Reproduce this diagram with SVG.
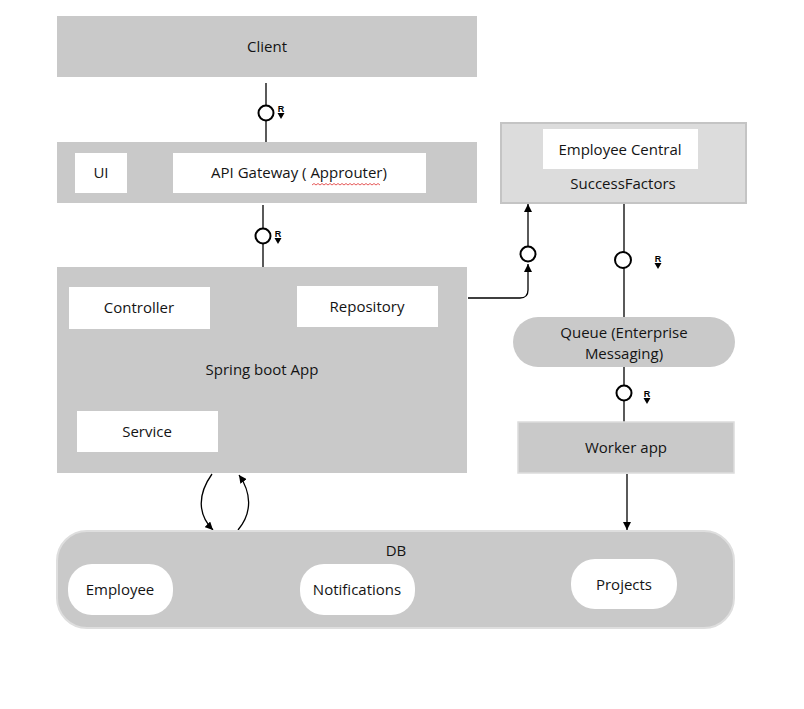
<svg xmlns="http://www.w3.org/2000/svg" width="804" height="709" viewBox="0 0 804 709">
  <defs>
    <style>
      .box { fill: #c9c9c9; }
      .inner { fill: #ffffff; }
      .lbl { font-family: "Open Sans", "Liberation Sans", sans-serif; font-size: 15px; fill: #141414; text-anchor: middle; }
      .wire { fill: none; stroke: #000; stroke-width: 1.3; }
      .port { fill: #fff; stroke: #000; stroke-width: 2; }
      .rtag { font-family: "Liberation Sans", Arial, sans-serif; font-size: 9px; font-weight: bold; fill: #000; text-anchor: middle; }
    </style>
    <marker id="arrow" viewBox="0 0 10 10" refX="10" refY="5" markerWidth="8" markerHeight="8" markerUnits="userSpaceOnUse" orient="auto">
      <path d="M0,0 L10,5 L0,10 Z" fill="#000"/>
    </marker>
    <!-- request-direction tag: small R with a down-pointing head -->
    <g id="rdir">
      <text class="rtag" x="0" y="0">R</text>
      <path d="M-3.5,1 H3.5 L0,7 Z" fill="#000"/>
    </g>
  </defs>

  <rect width="804" height="709" fill="#ffffff"/>

  <!-- connectors -->
  <g id="connectors">
    <!-- Client to gateway -->
    <line class="wire" x1="266" y1="83" x2="266" y2="142"/>
    <circle class="port" cx="266" cy="113" r="7.5"/>
    <use href="#rdir" x="281" y="112"/>

    <!-- gateway to Spring boot -->
    <line class="wire" x1="263" y1="205" x2="263" y2="267"/>
    <circle class="port" cx="263" cy="236" r="7.5"/>
    <use href="#rdir" x="278" y="237"/>

    <!-- Repository to SuccessFactors -->
    <path class="wire" d="M468,298 H520 Q528,298 528,290 V264" marker-end="url(#arrow)"/>
    <circle class="port" cx="528" cy="254" r="7.5"/>
    <line class="wire" x1="528" y1="246" x2="528" y2="204" marker-end="url(#arrow)"/>

    <!-- SuccessFactors to Queue -->
    <line class="wire" x1="624" y1="204" x2="624" y2="317"/>
    <circle class="port" cx="623" cy="260" r="8"/>
    <use href="#rdir" x="658" y="262"/>

    <!-- Queue to Worker app -->
    <line class="wire" x1="624" y1="367" x2="624" y2="422"/>
    <circle class="port" cx="624" cy="393" r="7.5"/>
    <use href="#rdir" x="647" y="397"/>

    <!-- Worker app to DB -->
    <line class="wire" x1="627" y1="474" x2="627" y2="530" marker-end="url(#arrow)"/>

    <!-- Spring boot <-> DB -->
    <path class="wire" d="M212,474 C197,495 198,515 213,530" marker-end="url(#arrow)"/>
    <path class="wire" d="M238,530 C253,512 251,492 239,475" marker-end="url(#arrow)"/>
  </g>

  <!-- Client -->
  <g id="client">
    <rect class="box" x="57" y="16" width="420" height="61"/>
    <text class="lbl" x="267" y="52">Client</text>
  </g>

  <!-- UI / API Gateway layer -->
  <g id="gateway-layer">
    <rect class="box" x="57" y="142" width="420" height="61"/>
    <g id="ui">
      <rect class="inner" x="75" y="153" width="52" height="40"/>
      <text class="lbl" x="101" y="178">UI</text>
    </g>
    <g id="api-gateway">
      <rect class="inner" x="173" y="153" width="253" height="40"/>
      <text class="lbl" x="299" y="178">API Gateway ( Approuter)</text>
      <path d="M312,185 l2,-1.5 l2,1.5 l2,-1.5 l2,1.5 l2,-1.5 l2,1.5 l2,-1.5 l2,1.5 l2,-1.5 l2,1.5 l2,-1.5 l2,1.5 l2,-1.5 l2,1.5 l2,-1.5 l2,1.5 l2,-1.5 l2,1.5 l2,-1.5 l2,1.5 l2,-1.5 l2,1.5 l2,-1.5 l2,1.5 l2,-1.5 l2,1.5 l2,-1.5 l2,1.5 l2,-1.5 l2,1.5 l2,-1.5 l2,1.5 l2,-1.5 l2,1.5" fill="none" stroke="#e03030" stroke-width="0.8"/>
    </g>
  </g>

  <!-- SuccessFactors -->
  <g id="successfactors">
    <rect x="501" y="123" width="245" height="80" fill="#dcdcdc" stroke="#c4c4c4" stroke-width="2"/>
    <g id="employee-central">
      <rect class="inner" x="543" y="129" width="155" height="40"/>
      <text class="lbl" x="620" y="155">Employee Central</text>
    </g>
    <text class="lbl" x="623" y="189">SuccessFactors</text>
  </g>

  <!-- Spring boot App -->
  <g id="spring-boot-app">
    <rect class="box" x="57" y="267" width="410" height="206"/>
    <g id="controller">
      <rect class="inner" x="69" y="287" width="141" height="42"/>
      <text class="lbl" x="139" y="313">Controller</text>
    </g>
    <g id="repository">
      <rect class="inner" x="297" y="286" width="141" height="41"/>
      <text class="lbl" x="367" y="312">Repository</text>
    </g>
    <text class="lbl" x="262" y="375">Spring boot App</text>
    <g id="service">
      <rect class="inner" x="77" y="411" width="141" height="41"/>
      <text class="lbl" x="147" y="437">Service</text>
    </g>
  </g>

  <!-- Queue -->
  <g id="queue">
    <rect class="box" x="513" y="317" width="222" height="50" rx="25" ry="25"/>
    <text class="lbl" x="624" y="338">Queue (Enterprise</text>
    <text class="lbl" x="624" y="359">Messaging)</text>
  </g>

  <!-- Worker app -->
  <g id="worker-app">
    <rect class="box" x="518" y="422" width="216" height="51" stroke="#dcdcdc" stroke-width="1.5"/>
    <text class="lbl" x="626" y="453">Worker app</text>
  </g>

  <!-- DB -->
  <g id="db">
    <rect class="box" x="57" y="531" width="677" height="97" rx="30" ry="30" stroke="#dedede" stroke-width="2"/>
    <text class="lbl" x="396" y="556">DB</text>
    <g id="employee">
      <rect class="inner" x="68" y="564" width="105" height="51" rx="24" ry="24"/>
      <text class="lbl" x="120" y="595">Employee</text>
    </g>
    <g id="notifications">
      <rect class="inner" x="300" y="564" width="115" height="51" rx="24" ry="24"/>
      <text class="lbl" x="357" y="595">Notifications</text>
    </g>
    <g id="projects">
      <rect class="inner" x="571" y="559" width="106" height="50" rx="24" ry="24"/>
      <text class="lbl" x="624" y="590">Projects</text>
    </g>
  </g>
</svg>
